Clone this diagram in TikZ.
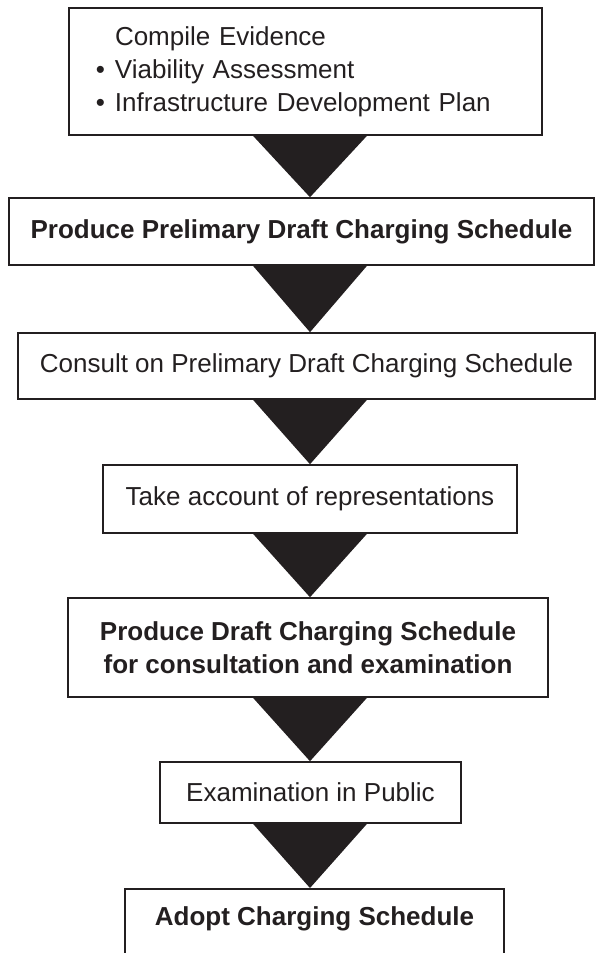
\documentclass[tikz,border=0pt]{standalone}
\usepackage{fontspec}
\setmainfont{Liberation Sans}
\usetikzlibrary{calc}
\definecolor{ink}{HTML}{231F20}
\tikzset{
  passo/.style={draw=ink, line width=1.6pt, text=ink, inner sep=0pt, align=center,
    font=\fontsize{26}{33}\selectfont},
  grassetto/.style={font=\fontsize{26}{33}\selectfont\bfseries},
  freccia/.style={fill=ink}
}

\begin{document}
\begin{tikzpicture}[x=1pt, y=-1pt, line join=miter]
\useasboundingbox (0,0) rectangle (596,953);
\clip (0,0) rectangle (596,953);

% riquadri delle fasi
\node[passo, align=left, text width=420pt, inner xsep=26.5pt, minimum height=127pt] (evid) at (305.5,71.5)
  {\hspace*{19.5pt}Compile Evidence\\
   \hspace*{19.5pt}\llap{•\hspace{10pt}}Viability Assessment\\
   \hspace*{19.5pt}\llap{•\hspace{10pt}}Infrastructure Development Plan};
\node[passo, grassetto, minimum width=585pt, minimum height=67pt] (pdcs) at (301.5,231.5)
  {Produce Prelimary Draft Charging Schedule};
\node[passo, minimum width=577pt, minimum height=66pt] (cons) at (306.5,366)
  {Consult on Prelimary Draft Charging Schedule};
\node[passo, minimum width=414pt, minimum height=68pt] (rapp) at (310,499)
  {Take account of representations};
\node[passo, grassetto, minimum width=480pt, minimum height=99pt] (dcs) at (308,647.5)
  {Produce Draft Charging Schedule\\ for consultation and examination};
\node[passo, minimum width=301pt, minimum height=61pt] (esame) at (310.5,792.5)
  {Examination in Public};
% l'ultimo riquadro esce dal bordo in basso
\node[passo, grassetto, anchor=north, minimum width=379pt, inner ysep=20pt,
  text height=17pt, text depth=25pt] (adoz) at (314.5,888)
  {Adopt Charging Schedule};

% frecce triangolari tra i riquadri
\coordinate (ax) at (310,0);
\foreach \a/\b in {evid/pdcs, pdcs/cons, cons/rapp, rapp/dcs, dcs/esame, esame/adoz}
  \fill[freccia] ($(\a.south -| ax)+(-57,0)$) -- ($(\a.south -| ax)+(57,0)$)
    -- (\b.north -| ax) -- cycle;
\end{tikzpicture}
\end{document}
